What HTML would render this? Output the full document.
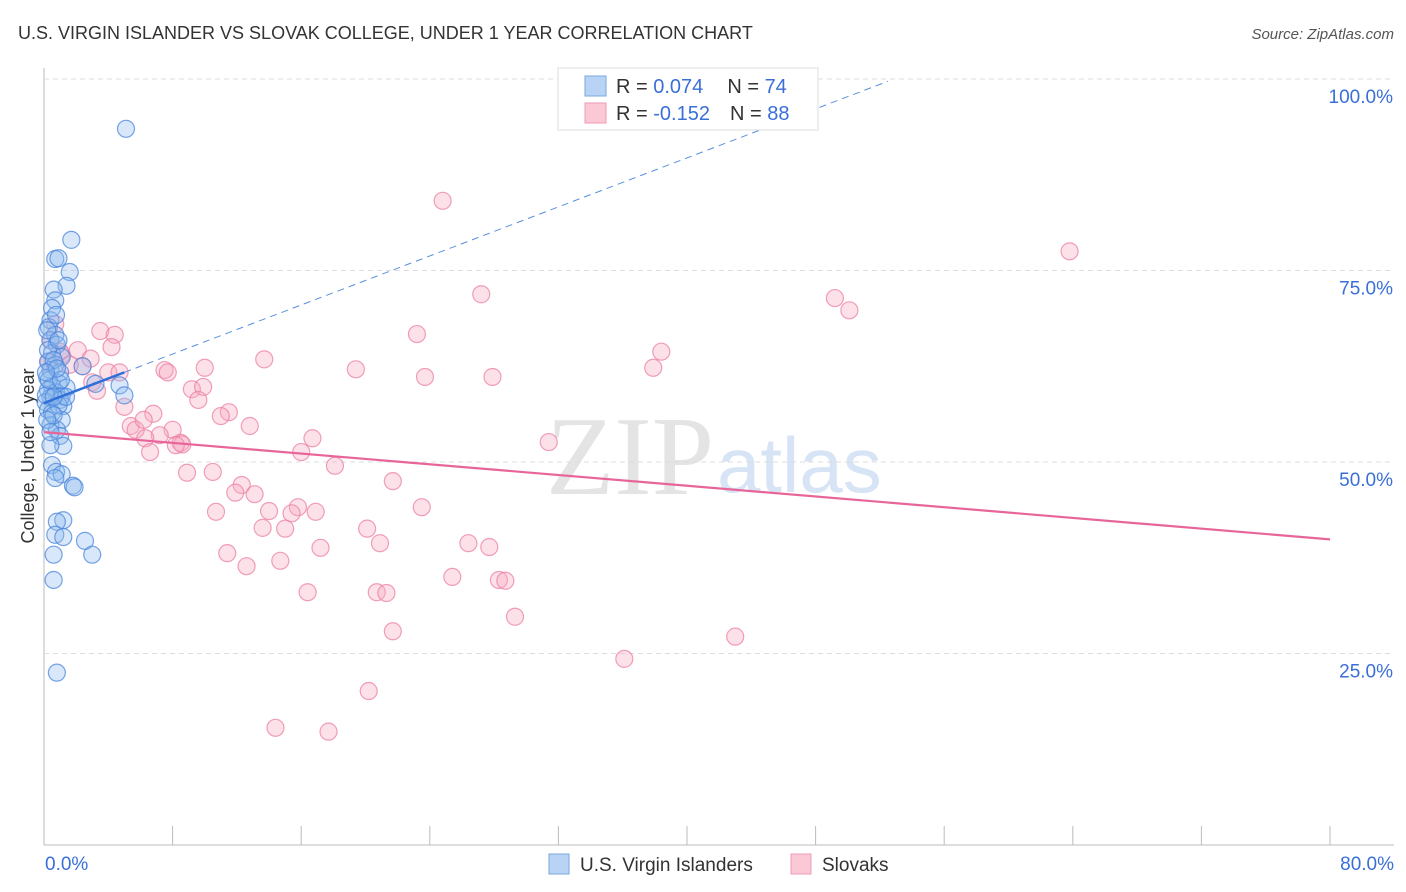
<!DOCTYPE html>
<html><head><meta charset="utf-8"><style>
body{margin:0;background:#fff;font-family:"Liberation Sans",sans-serif;}
#wrap{position:relative;width:1406px;height:892px;overflow:hidden;}
</style></head><body>
<div id="wrap">
<svg id="svg" width="1406" height="892" xmlns="http://www.w3.org/2000/svg">
<text x="18" y="39" font-size="18" fill="#333">U.S. VIRGIN ISLANDER VS SLOVAK COLLEGE, UNDER 1 YEAR CORRELATION CHART</text>
<text x="1394" y="39" font-size="15" fill="#555" font-style="italic" text-anchor="end">Source: ZipAtlas.com</text>
<text x="34" y="456" font-size="18" fill="#333" transform="rotate(-90 34 456)" text-anchor="middle">College, Under 1 year</text>
<text x="714" y="494" font-size="112" fill="#e4e4e4" font-family="Liberation Serif,serif" text-anchor="end">ZIP</text>
<text x="717" y="492" font-size="78" fill="#d6e4f5" text-anchor="start">atlas</text>
<g id="grid"></g><g id="pinkpts"></g><g id="bluepts"></g><g id="lines"></g>
<g>
<rect x="558" y="68" width="260" height="62" fill="#fff" stroke="#ddd"/>
<rect x="585" y="76" width="21" height="20" fill="#b9d3f5" stroke="#7aa7e0"/>
<rect x="585" y="103" width="21" height="20" fill="#fbc8d6" stroke="#f19bb4"/>
<text x="616" y="93" font-size="20" fill="#333">R = <tspan fill="#3a6fd8"> 0.074</tspan><tspan dx="24">N = </tspan><tspan fill="#3a6fd8">74</tspan></text>
<text x="616" y="120" font-size="20" fill="#333">R = <tspan fill="#3a6fd8">-0.152</tspan><tspan dx="20">N = </tspan><tspan fill="#3a6fd8">88</tspan></text>
</g>
<g>
<rect x="549" y="854" width="20" height="20" fill="#b9d3f5" stroke="#7aa7e0"/>
<text x="580" y="871" font-size="19" fill="#333">U.S. Virgin Islanders</text>
<rect x="791" y="854" width="20" height="20" fill="#fbc8d6" stroke="#f19bb4"/>
<text x="822" y="871" font-size="19" fill="#333">Slovaks</text>
</g>
</svg></div>
<script>
const xTicks=[0,8,16,24,32,40,48,56,64,72,80];
const yTicks=[25,50,75,100];
const blueX=[5.1,1.7,0.7,0.9,1.6,1.4,0.6,0.7,0.5,0.4,0.3,0.7,0.4,0.8,0.5,1.1,0.25,0.7,0.4,1.0,0.2,0.9,0.5,1.4,0.25,0.75,1.1,0.4,1.0,0.1,1.2,0.25,0.5,1.1,0.4,0.8,1.0,1.2,0.5,0.75,1.1,1.8,1.9,0.7,1.2,0.8,0.7,1.2,2.55,3.0,0.6,0.6,0.8,2.4,3.2,4.7,5.0,0.4,0.9,0.25,0.12,0.6,0.2,0.75,0.3,1.37,0.6,0.9,0.2,0.4,1.05,0.6,0.8,0.12];
const blueY=[93.5,79.0,76.5,76.6,74.8,73.0,72.5,71.1,70.1,68.5,67.6,66.6,65.9,65.3,64.2,63.7,63.1,62.7,62.0,61.7,61.0,60.3,59.9,59.7,59.4,59.1,58.6,58.4,58.1,57.8,57.3,56.8,56.4,55.5,54.8,54.2,53.4,52.1,49.6,48.7,48.4,46.9,46.7,47.9,42.4,42.2,40.5,40.2,39.7,37.9,37.9,34.6,22.5,62.5,60.2,60.0,58.7,52.2,57.4,64.6,58.7,56.1,67.2,69.2,60.7,58.5,63.3,65.9,55.5,53.9,60.7,58.5,62.2,61.7];
const pinkX=[24.8,63.8,27.2,49.2,50.1,23.2,3.5,4.4,0.7,0.4,4.2,2.1,1.1,13.7,38.4,19.4,23.7,27.9,37.9,10.0,7.5,7.7,2.4,4.0,4.7,3.0,3.3,9.2,9.9,9.6,5.0,6.8,11.5,11.0,5.4,5.7,12.8,8.0,7.2,6.3,8.5,8.6,6.6,16.7,16.0,31.4,18.1,8.9,10.5,21.7,12.3,11.9,13.1,10.7,14.0,15.8,15.4,16.9,23.5,13.6,15.0,20.1,17.2,20.9,26.4,27.7,11.4,14.7,12.6,25.4,28.3,28.7,16.4,20.7,21.3,29.3,21.7,43.0,36.1,20.2,14.4,17.7,1.0,1.6,6.2,8.2,0.3,2.9];
const pinkY=[84.1,77.5,71.9,71.4,69.8,66.7,67.1,66.6,68.0,65.9,65.0,64.6,64.0,63.4,64.4,62.1,61.1,61.1,62.3,62.3,62.0,61.7,62.5,61.7,61.7,60.4,59.3,59.5,59.8,58.1,57.2,56.3,56.5,56.0,54.7,54.2,54.7,54.2,53.5,53.1,52.5,52.3,51.3,53.1,51.3,52.6,49.5,48.6,48.7,47.5,47.0,46.0,45.8,43.5,43.6,44.1,43.3,43.5,44.1,41.4,41.3,41.3,38.8,39.4,39.4,38.9,38.1,37.1,36.4,35.0,34.6,34.5,33.0,33.0,32.9,29.8,27.9,27.2,24.3,20.1,15.3,14.8,64.4,62.7,55.5,52.2,63.0,63.5];
const blueTrend=[57.7,0.8]; const pinkTrend=[53.9,-0.175];
const X=v=>44+v*(1286/80), Y=v=>845-v*7.66;
const NS='http://www.w3.org/2000/svg';
function mk(tag,attrs,parent){const e=document.createElementNS(NS,tag);for(const k in attrs)e.setAttribute(k,attrs[k]);parent.appendChild(e);return e;}
const grid=document.getElementById('grid');
const ax=mk('line',{x1:44,y1:68,x2:44,y2:845,stroke:'#bbb'},grid);


const bx=mk('line',{x1:44,y1:845,x2:1394,y2:845,stroke:'#bbb'},grid);


yTicks.forEach(t=>{
 const g=mk('line',{x1:44,y1:Y(t),x2:1394,y2:Y(t),stroke:'#ddd','stroke-dasharray':'5,4'},grid);
 
 
 const l=mk('text',{x:1393,y:Y(t)+24,'font-size':19,fill:'#3a6fd8','text-anchor':'end'},grid);l.textContent=t.toFixed(1)+'%';
 
 
});
xTicks.forEach(t=>{
 const k=mk('line',{x1:X(t),y1:826,x2:X(t),y2:845,stroke:'#bbb'},grid);
 
 
});
[[0,'start',45],[80,'end',1394]].forEach(([t,a,px])=>{
 const l=mk('text',{x:px,y:870,'font-size':19,fill:'#3a6fd8','text-anchor':a},grid);l.textContent=t.toFixed(1)+'%';
 
 
});
function pts(xs,ys,g,fill,stroke,name){xs.forEach((x,i)=>{
 const c=mk('circle',{cx:X(x),cy:Y(ys[i]),r:8.5,fill:fill,'fill-opacity':0.35,stroke:stroke,'stroke-opacity':0.75,'stroke-width':1.2},g);
 
 
});}
pts(pinkX,pinkY,document.getElementById('pinkpts'),'#f7a8c0','#ec7fa3','slovak-point');
pts(blueX,blueY,document.getElementById('bluepts'),'#90b9ee','#4a86dc','virgin-islander-point');
const L=document.getElementById('lines');
const d=mk('line',{x1:X(5),y1:Y(blueTrend[0]+5*blueTrend[1]),x2:X(52.5),y2:Y(blueTrend[0]+52.5*blueTrend[1]),stroke:'#5a8fdd','stroke-width':1,'stroke-dasharray':'7,5'},L);


const s=mk('line',{x1:X(0),y1:Y(blueTrend[0]),x2:X(5),y2:Y(blueTrend[0]+5*blueTrend[1]),stroke:'#2f6fd6','stroke-width':2.5},L);


const p=mk('line',{x1:X(0),y1:Y(pinkTrend[0]),x2:X(80),y2:Y(pinkTrend[0]+80*pinkTrend[1]),stroke:'#e8659a','stroke-width':2.2},L);


</script>
</body></html>
